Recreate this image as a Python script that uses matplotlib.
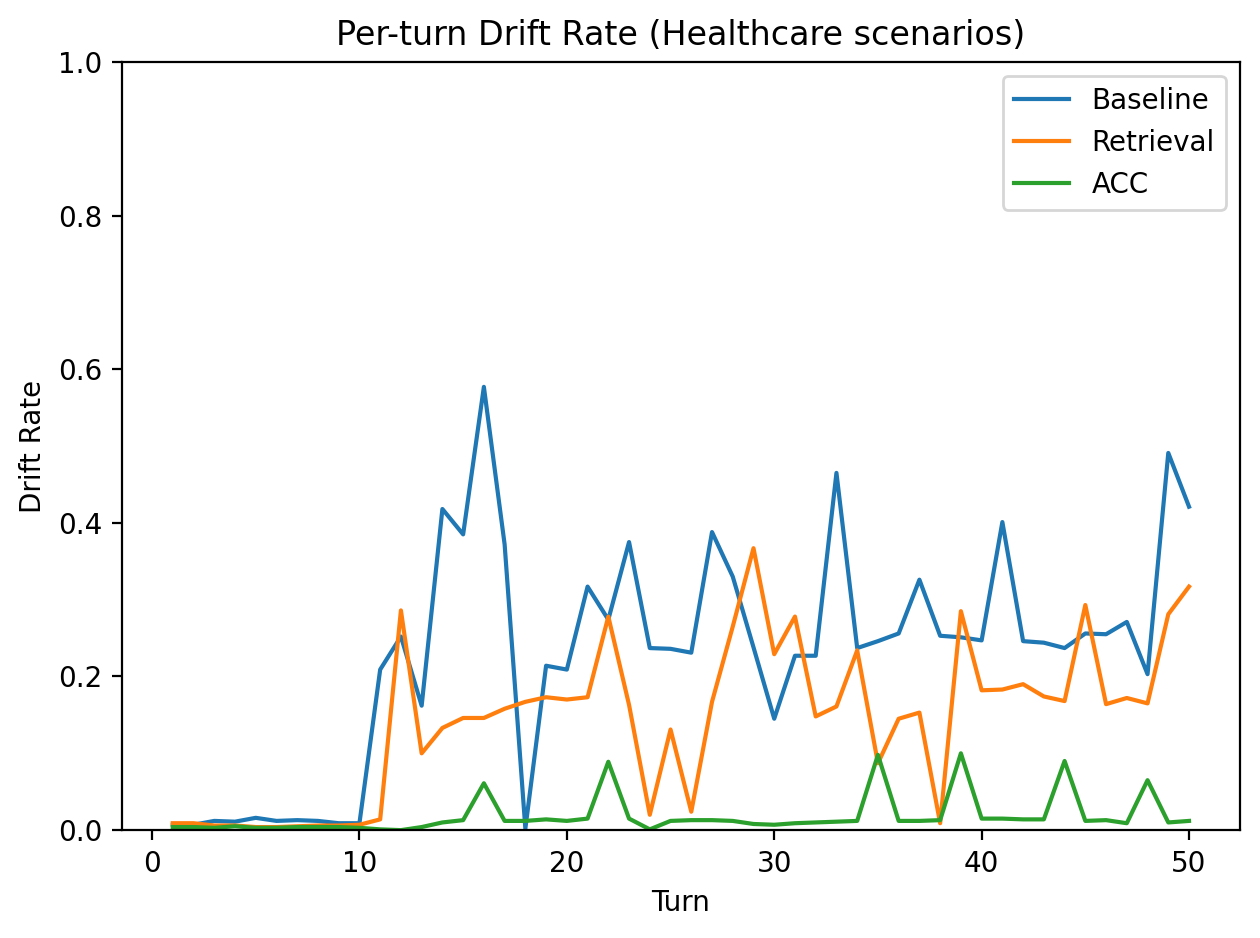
import matplotlib
matplotlib.use("Agg")
import matplotlib.pyplot as plt
import numpy as np

turns = np.arange(1, 51)

baseline = [0.007, 0.007, 0.012, 0.011, 0.016, 0.012, 0.013, 0.012, 0.009, 0.009,
            0.209, 0.252, 0.162, 0.418, 0.385, 0.577, 0.372, 0.002, 0.214, 0.209,
            0.317, 0.274, 0.375, 0.237, 0.236, 0.231, 0.388, 0.330, 0.238, 0.145,
            0.227, 0.227, 0.465, 0.237, 0.246, 0.256, 0.326, 0.253, 0.251, 0.247,
            0.401, 0.246, 0.244, 0.237, 0.256, 0.255, 0.271, 0.203, 0.491, 0.421]

retrieval = [0.009, 0.009, 0.006, 0.006, 0.004, 0.004, 0.005, 0.006, 0.006, 0.007,
             0.014, 0.286, 0.100, 0.133, 0.146, 0.146, 0.158, 0.167, 0.173, 0.170,
             0.173, 0.278, 0.163, 0.020, 0.131, 0.024, 0.167, 0.265, 0.367, 0.229,
             0.278, 0.148, 0.161, 0.234, 0.087, 0.145, 0.153, 0.009, 0.285, 0.182,
             0.183, 0.190, 0.174, 0.168, 0.293, 0.164, 0.172, 0.165, 0.281, 0.317]

acc = [0.004, 0.004, 0.003, 0.005, 0.003, 0.003, 0.004, 0.004, 0.004, 0.003,
       0.001, 0.000, 0.004, 0.010, 0.013, 0.061, 0.012, 0.012, 0.014, 0.012,
       0.015, 0.089, 0.015, 0.001, 0.012, 0.013, 0.013, 0.012, 0.008, 0.007,
       0.009, 0.010, 0.011, 0.012, 0.098, 0.012, 0.012, 0.013, 0.100, 0.015,
       0.015, 0.014, 0.014, 0.090, 0.012, 0.013, 0.009, 0.065, 0.010, 0.012]

fig, ax = plt.subplots(figsize=(6.3, 4.69), dpi=200)
fig.subplots_adjust(left=0.0968, right=0.984, top=0.934, bottom=0.115)

ax.plot(turns, baseline, label="Baseline")
ax.plot(turns, retrieval, label="Retrieval")
ax.plot(turns, acc, label="ACC")

ax.set_ylim(0, 1)
ax.set_xlabel("Turn")
ax.set_ylabel("Drift Rate")
ax.set_title("Per-turn Drift Rate (Healthcare scenarios)")
ax.legend(loc="upper right")

fig.savefig("out.png", dpi=200)
